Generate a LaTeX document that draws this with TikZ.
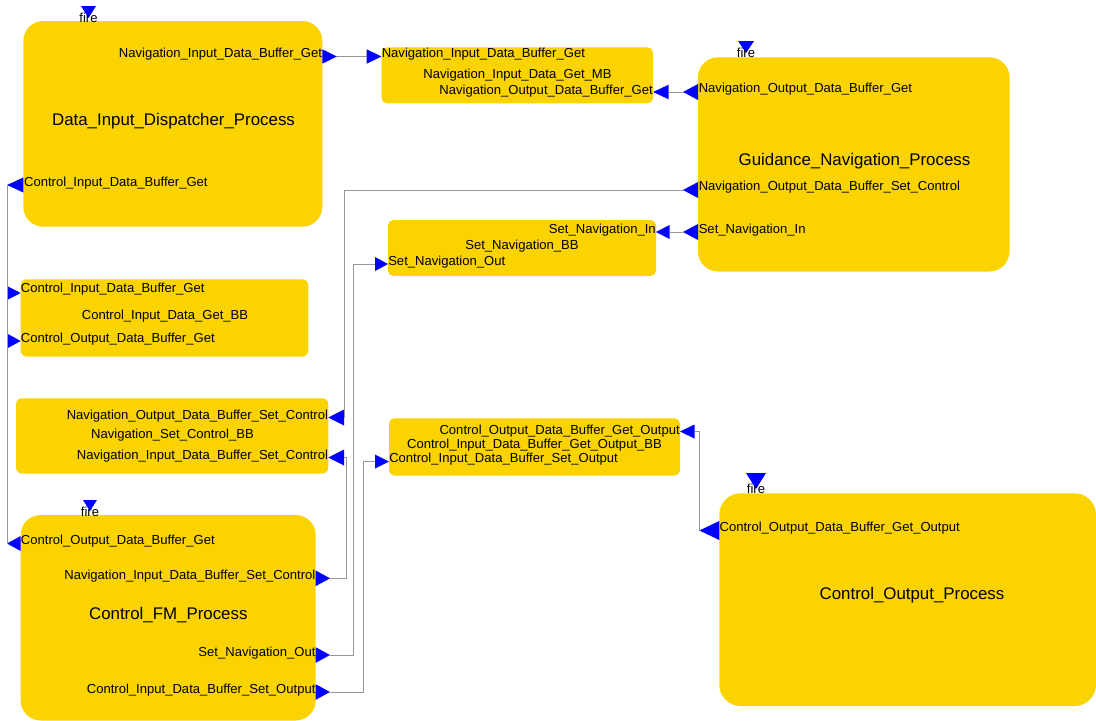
\documentclass[tikz,border=0pt]{standalone}
\usepackage{fontspec}
\setmainfont{Liberation Sans}
\definecolor{blockfill}{RGB}{250,211,0}
\definecolor{portblue}{RGB}{0,0,255}
\definecolor{wire}{RGB}{150,150,150}
\tikzset{
  blk/.style={fill=blockfill, draw=none, inner sep=0pt, outer sep=0pt, anchor=north west},
  lbl/.style={inner sep=0pt, font=\fontsize{9.8}{11}\selectfont, text=black},
  ttl/.style={inner sep=0pt, font=\fontsize{12.65}{15}\selectfont, text=black, anchor=base},
  wirestyle/.style={draw=wire, line width=0.75pt},
  portfill/.style={fill=portblue},
}
% block: name, x1, y1, x2, y2, corner radius (coordinates in pixels)
\newcommand\blockbox[6]{%
  \node[blk, rounded corners=#6, minimum width={(#4-#2)*0.75pt},
        minimum height={(#5-#3)*0.75pt}] (#1) at (#2,#3) {};}
% port triangle: name, base x, tip x, y, half height; wire attaches at the tip
\newcommand\porttip[5]{%
  \fill[portfill] (#2,{#4-#5}) -- (#3,#4) -- (#2,{#4+#5}) -- cycle;
  \coordinate (#1) at (#3,#4);}
% port triangle whose wire attaches at the base
\newcommand\portbase[5]{%
  \fill[portfill] (#2,{#4-#5}) -- (#3,#4) -- (#2,{#4+#5}) -- cycle;
  \coordinate (#1) at (#2,#4);}
% trigger input on top of a process: name, x1, x2, top y, tip y, label baseline
\newcommand\firetrigger[6]{%
  \fill[portfill] (#2,#4) -- (#3,#4) -- ({(#2+#3)/2},#5) -- cycle;
  \node[lbl, anchor=base] (#1) at ({(#2+#3)/2},#6) {fire};}

\begin{document}
\begin{tikzpicture}[x=0.75pt, y=-0.75pt]
\useasboundingbox (0,0) rectangle (1096,721);

% ---- blocks
\blockbox{didp}{23.3}{21}{322.3}{226.7}{15pt}
\blockbox{mb}{381.5}{47.3}{653}{103.3}{4pt}
\blockbox{gnp}{698}{57.3}{1009.5}{271.5}{15pt}
\blockbox{snbb}{388}{220}{656}{276}{4pt}
\blockbox{cgbb}{20.7}{279.3}{308.3}{356.5}{4.5pt}
\blockbox{nscbb}{16}{398.3}{328.3}{473.5}{4.5pt}
\blockbox{cobb}{389}{418.3}{680}{475.5}{4pt}
\blockbox{fm}{20.7}{515}{315.7}{720.5}{15pt}
\blockbox{cop}{719.3}{493.3}{1096}{706}{16pt}

% ---- ports
\porttip{didp-nidbg}{322.3}{337}{56.5}{7.2}
\porttip{didp-cidbg}{23.3}{7}{185}{7.5}
\portbase{mb-nidbg}{366.7}{381.5}{56.5}{7.2}
\portbase{mb-nodbg}{668.5}{653}{92}{7.2}
\porttip{gnp-nodbg}{698}{683}{92}{8}
\porttip{gnp-nodbsc}{698}{683}{190}{8}
\porttip{gnp-sni}{698}{683}{232}{8}
\portbase{snbb-sni}{669.5}{656}{232}{7}
\portbase{snbb-sno}{375}{388}{264}{7}
\portbase{cgbb-cidbg}{7}{20.7}{293}{7}
\portbase{cgbb-codbg}{7}{20.7}{341}{7.5}
\portbase{nscbb-nodbsc}{344}{328.3}{417.5}{8}
\portbase{nscbb-nidbsc}{344}{328.3}{457.5}{8}
\portbase{cobb-cdbgo}{694.5}{680}{431.5}{7}
\portbase{cobb-cidbso}{375}{389}{461.5}{7}
\porttip{fm-codbg}{20.7}{7}{543.5}{7.5}
\porttip{fm-nidbsc}{315.7}{330}{578.3}{7.8}
\porttip{fm-sno}{315.7}{330}{655}{7.8}
\porttip{fm-cidbso}{315.7}{330}{692}{7.8}
\porttip{cop-cdbgo}{719.3}{699.3}{530.5}{9.5}

% ---- wires
\draw[wirestyle] (didp-nidbg) -- (mb-nidbg);
\draw[wirestyle] (gnp-nodbg) -- (mb-nodbg);
\draw[wirestyle] (gnp-sni) -- (snbb-sni);
\draw[wirestyle] (gnp-nodbsc) -| (nscbb-nodbsc);
\draw[wirestyle] (fm-nidbsc) -| ([xshift=1.5pt]nscbb-nidbsc) -- (nscbb-nidbsc);
\draw[wirestyle] (fm-sno) -| ([xshift=-16.5pt]snbb-sno) -- (snbb-sno);
\draw[wirestyle] (fm-cidbso) -| ([xshift=-9pt]cobb-cidbso) -- (cobb-cidbso);
\draw[wirestyle] (cobb-cdbgo) -| (cop-cdbgo);
\draw[wirestyle] (didp-cidbg) -- (cgbb-codbg);
\draw[wirestyle] (fm-codbg) -- (cgbb-cidbg);

% ---- fire triggers
\firetrigger{didp-fire}{81}{96}{6}{18}{22.5}
\firetrigger{gnp-fire}{738}{754}{41}{53}{57.5}
\firetrigger{fm-fire}{83}{97}{500}{511}{516.5}
\firetrigger{cop-fire}{746}{766}{473}{489}{493.5}

% ---- titles
\node[ttl] (didp-t) at (173.5,125) {Data\_Input\_Dispatcher\_Process};
\node[ttl] (gnp-t) at (854.5,165) {Guidance\_Navigation\_Process};
\node[ttl] (fm-t) at (168.3,619) {Control\_FM\_Process};
\node[ttl] (cop-t) at (912,599) {Control\_Output\_Process};

\node[lbl, anchor=base] (mb-t) at (517.5,78) {Navigation\_Input\_Data\_Get\_MB};
\node[lbl, anchor=base] (snbb-t) at (522,249) {Set\_Navigation\_BB};
\node[lbl, anchor=base] (cgbb-t) at (165,319) {Control\_Input\_Data\_Get\_BB};
\node[lbl, anchor=base] (nscbb-t) at (172.5,438) {Navigation\_Set\_Control\_BB};
\node[lbl, anchor=base] (cobb-t) at (534.5,448) {Control\_Input\_Data\_Buffer\_Get\_Output\_BB};

% ---- port labels
\node[lbl, anchor=base east] (l1) at (322.3,57) {Navigation\_Input\_Data\_Buffer\_Get};
\node[lbl, anchor=base west] (l2) at (23.8,186) {Control\_Input\_Data\_Buffer\_Get};
\node[lbl, anchor=base west] (l3) at (381.5,57) {Navigation\_Input\_Data\_Buffer\_Get};
\node[lbl, anchor=base east] (l4) at (653,94) {Navigation\_Output\_Data\_Buffer\_Get};
\node[lbl, anchor=base west] (l5) at (698.5,92) {Navigation\_Output\_Data\_Buffer\_Get};
\node[lbl, anchor=base west] (l6) at (698.5,190.5) {Navigation\_Output\_Data\_Buffer\_Set\_Control};
\node[lbl, anchor=base west] (l7) at (698.5,233) {Set\_Navigation\_In};
\node[lbl, anchor=base east] (l8) at (656,233) {Set\_Navigation\_In};
\node[lbl, anchor=base west] (l9) at (388,265.5) {Set\_Navigation\_Out};
\node[lbl, anchor=base west] (l10) at (20.7,292.5) {Control\_Input\_Data\_Buffer\_Get};
\node[lbl, anchor=base west] (l11) at (20.7,342) {Control\_Output\_Data\_Buffer\_Get};
\node[lbl, anchor=base east] (l12) at (328.3,419) {Navigation\_Output\_Data\_Buffer\_Set\_Control};
\node[lbl, anchor=base east] (l13) at (328.3,459.5) {Navigation\_Input\_Data\_Buffer\_Set\_Control};
\node[lbl, anchor=base east] (l14) at (680,434) {Control\_Output\_Data\_Buffer\_Get\_Output};
\node[lbl, anchor=base west] (l15) at (389,462) {Control\_Input\_Data\_Buffer\_Set\_Output};
\node[lbl, anchor=base west] (l16) at (20.7,544) {Control\_Output\_Data\_Buffer\_Get};
\node[lbl, anchor=base east] (l17) at (315.7,579) {Navigation\_Input\_Data\_Buffer\_Set\_Control};
\node[lbl, anchor=base east] (l18) at (315.7,656) {Set\_Navigation\_Out};
\node[lbl, anchor=base east] (l19) at (315.7,693) {Control\_Input\_Data\_Buffer\_Set\_Output};
\node[lbl, anchor=base west] (l20) at (719.3,531) {Control\_Output\_Data\_Buffer\_Get\_Output};
\end{tikzpicture}
\end{document}
